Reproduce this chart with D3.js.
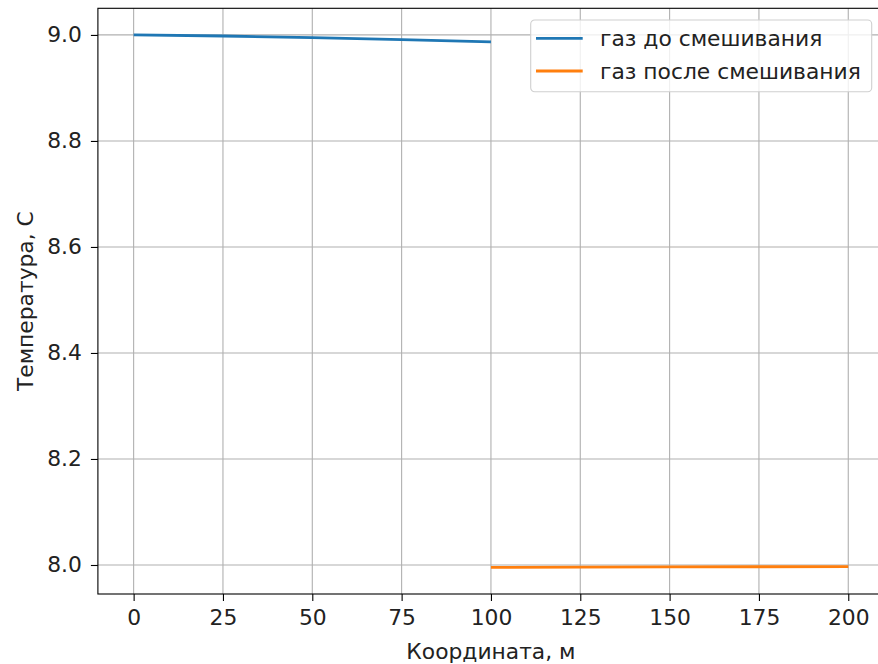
<!DOCTYPE html>
<html>
<head>
<meta charset="utf-8">
<script src="https://cdn.jsdelivr.net/npm/d3@7"></script>
<style>
  body { margin: 0; background: #fff; }
  svg { display: block; font-family: "DejaVu Sans", sans-serif; }
  .grid line { stroke: #b0b0b0; stroke-width: 1.1; }
</style>
</head>
<body>
<div id="chart"></div>
<script>
// gas temperature along the pipe
var xBefore = [0, 25, 50, 75, 100];
var tBefore = [9.0, 8.998, 8.995, 8.991, 8.987];
var xAfter = [100, 125, 150, 175, 200];
var tAfter = [7.9955, 7.996, 7.9963, 7.9967, 7.997];
var seriesNames = ["газ до смешивания", "газ после смешивания"];
var xTicks = [0, 25, 50, 75, 100, 125, 150, 175, 200];
var yTicks = [8.0, 8.2, 8.4, 8.6, 8.8, 9.0];
var colors = ["#1f77b4", "#ff7f0e"];

var fontSize = "21.8px";

function paint_chart(){
	var W = 878, H = 664;
	var margin = {top: 8.3, right: -6, bottom: 70, left: 97.9},
	    width = W - margin.left - margin.right,
	    height = H - margin.top - margin.bottom;

	var svg = d3.select("#chart").append("svg")
	    .attr("width", W)
	    .attr("height", H)
	    .style("overflow", "hidden");

	// matplotlib-like 5% margins
	var allX = xBefore.concat(xAfter), allY = tBefore.concat(tAfter);
	var xmin = d3.min(allX), xmax = d3.max(allX);
	var ymin = d3.min(allY), ymax = d3.max(allY);
	var dx = (xmax - xmin) * 0.05, dy = (ymax - ymin) * 0.05;

	var x = d3.scaleLinear().domain([xmin - dx, xmax + dx]).range([0, width]);
	var y = d3.scaleLinear().domain([ymin - dy, ymax + dy]).range([height, 0]);

	var g = svg.append("g")
	    .attr("transform", "translate(" + margin.left + "," + margin.top + ")");

	// grid
	g.append("g").attr("class", "grid")
	  .selectAll("line").data(xTicks).enter().append("line")
	    .attr("x1", function(d) { return x(d); })
	    .attr("x2", function(d) { return x(d); })
	    .attr("y1", 0).attr("y2", height);
	g.append("g").attr("class", "grid")
	  .selectAll("line").data(yTicks).enter().append("line")
	    .attr("y1", function(d) { return y(d); })
	    .attr("y2", function(d) { return y(d); })
	    .attr("x1", 0).attr("x2", width);

	var line = d3.line()
	    .x(function(d) { return x(d[0]); })
	    .y(function(d) { return y(d[1]); });

	g.append("path")
	    .datum(d3.zip(xBefore, tBefore))
	    .attr("fill", "none")
	    .attr("stroke", colors[0])
	    .attr("stroke-width", 2.8)
	    .attr("d", line);
	g.append("path")
	    .datum(d3.zip(xAfter, tAfter))
	    .attr("fill", "none")
	    .attr("stroke", colors[1])
	    .attr("stroke-width", 2.8)
	    .attr("d", line);

	// axes
	var xAxis = d3.axisBottom(x).tickValues(xTicks).tickSize(7).tickPadding(9)
	    .tickFormat(d3.format("d"));
	var yAxis = d3.axisLeft(y).tickValues(yTicks).tickSize(7).tickPadding(9)
	    .tickFormat(d3.format(".1f"));

	var gx = g.append("g")
	    .attr("transform", "translate(0," + height + ")")
	    .call(xAxis);
	var gy = g.append("g").call(yAxis);
	[gx, gy].forEach(function(a) {
		a.select(".domain").remove();
		a.selectAll(".tick line").attr("stroke", "#000").attr("stroke-width", 1.1);
		a.selectAll(".tick text").attr("fill", "#222").style("font-size", fontSize)
		    .style("font-family", "'DejaVu Sans', sans-serif");
	});

	// frame
	g.append("rect")
	    .attr("width", width).attr("height", height)
	    .attr("fill", "none").attr("stroke", "#000").attr("stroke-width", 1.1);

	// axis labels
	svg.append("text")
	    .attr("x", margin.left + width / 2)
	    .attr("y", 659)
	    .attr("text-anchor", "middle")
	    .attr("fill", "#222")
	    .style("font-size", fontSize)
	    .text("Координата, м");
	svg.append("text")
	    .attr("transform", "translate(33," + (margin.top + height / 2) + ") rotate(-90)")
	    .attr("text-anchor", "middle")
	    .attr("fill", "#222")
	    .style("font-size", fontSize)
	    .text("Температура, С");

	// legend
	var leg = svg.append("g").attr("transform", "translate(530.7,20)");
	leg.append("rect")
	    .attr("width", 341).attr("height", 71.7)
	    .attr("rx", 4).attr("ry", 4)
	    .attr("fill", "#fff").attr("fill-opacity", 0.8)
	    .attr("stroke", "#d0d0d0").attr("stroke-width", 1.1);
	seriesNames.forEach(function(name, i) {
		var yy = 18.3 + i * 32.7;
		leg.append("line")
		    .attr("x1", 5.3).attr("x2", 52)
		    .attr("y1", yy).attr("y2", yy)
		    .attr("stroke", colors[i]).attr("stroke-width", 2.8);
		leg.append("text")
		    .attr("x", 69.3).attr("y", yy)
		    .attr("dy", "0.35em")
		    .attr("fill", "#222")
		    .style("font-size", fontSize)
		    .text(name);
	});
}

paint_chart();
</script>
</body>
</html>
